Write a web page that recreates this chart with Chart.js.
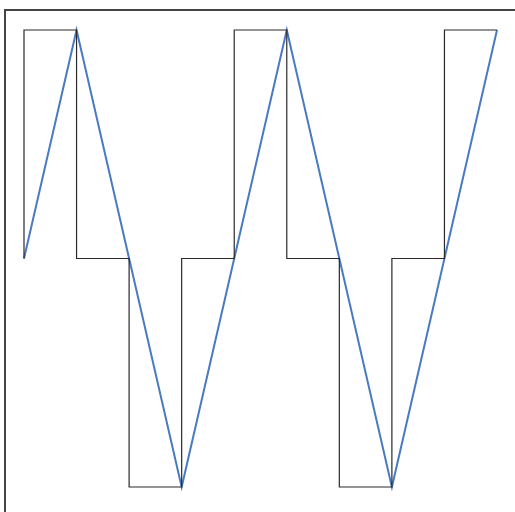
<!DOCTYPE html>
<html>
<head>
<meta charset="UTF-8">
<title>Step and triangle wave</title>
<script src="https://cdn.jsdelivr.net/npm/chart.js"></script>
<style>
    html, body { margin: 0; padding: 0; background: #fff; overflow: hidden; }
    #frame {
        position: absolute; left: 4px; top: 9px; width: 530px; height: 530px;
        border-top: 2px solid #444; border-left: 2px solid #444;
    }
    #wrap { position: absolute; left: 0; top: 0; width: 515px; height: 512px; }
</style>
</head>
<body>
<div id="frame"></div>
<div id="wrap"><canvas id="waveChart"></canvas></div>

<script>
const labels = ['0', '1', '2', '3', '4', '5', '6', '7', '8', '9'];
const triangleValues = [0, 1, 0, -1, 0, 1, 0, -1, 0, 1];
const stepValues = [0, 1, 0, -1, 0, 1, 0, -1, 0, 1];

const ctx = document.getElementById('waveChart').getContext('2d');
new Chart(ctx, {
    type: 'line',
    data: {
        labels: labels,
        datasets: [
            {
                label: 'step',
                data: stepValues,
                stepped: 'after',
                borderColor: '#2a2a2a',
                borderWidth: 1.2,
                pointRadius: 0,
                fill: false,
                clip: false
            },
            {
                label: 'triangle',
                data: triangleValues,
                borderColor: '#4a7abf',
                borderWidth: 2,
                tension: 0,
                pointRadius: 0,
                fill: false,
                clip: false
            }
        ]
    },
    options: {
        responsive: true,
        maintainAspectRatio: false,
        animation: false,
        layout: {
            autoPadding: false,
            padding: { left: 24, right: 18, top: 30, bottom: 25 }
        },
        plugins: { legend: { display: false }, tooltip: { enabled: false } },
        scales: {
            x: { display: false, offset: false },
            y: { display: false, min: -1, max: 1 }
        }
    }
});
</script>
</body>
</html>
